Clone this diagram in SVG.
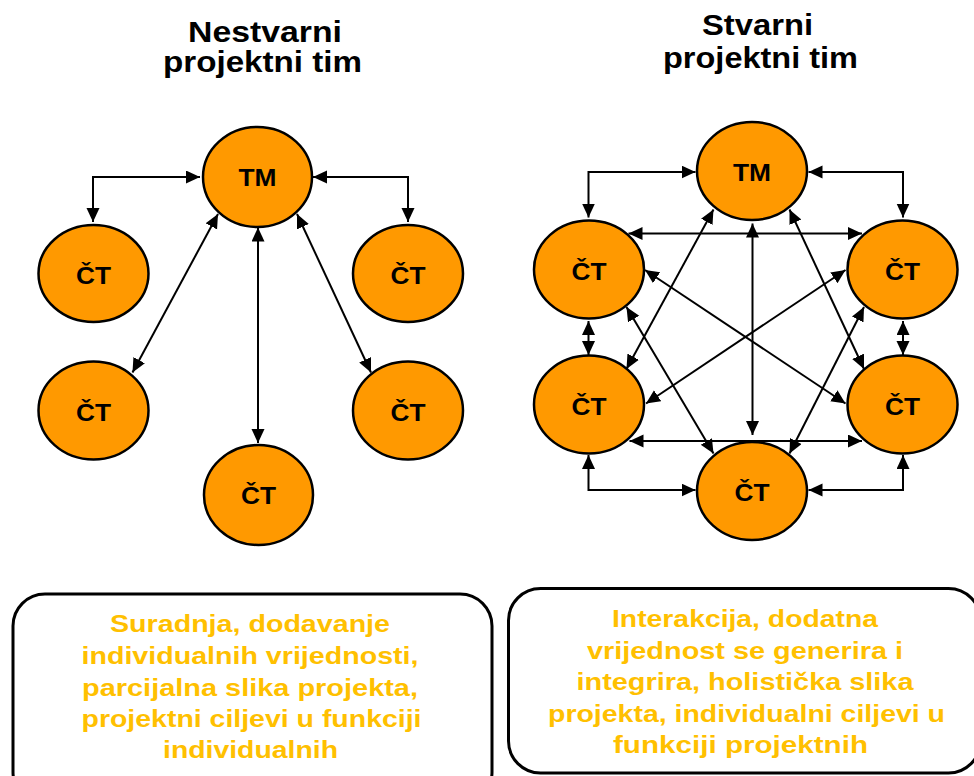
<svg xmlns="http://www.w3.org/2000/svg" width="974" height="776" viewBox="0 0 974 776">
<style>
.title{font-family:"Liberation Sans",Arial,sans-serif;font-weight:bold;font-size:29px;fill:#000;text-anchor:middle}
.node ellipse{fill:#FF9900;stroke:#000;stroke-width:2.5}
.node text{font-family:"Liberation Sans",Arial,sans-serif;font-weight:bold;font-size:24px;fill:#000;text-anchor:middle}
.conn{fill:none;stroke:#000;stroke-width:2;marker-start:url(#ah);marker-end:url(#ah)}
.box rect{fill:#fff;stroke:#000;stroke-width:3}
.box text{font-family:"Liberation Sans",Arial,sans-serif;font-weight:bold;font-size:24px;fill:#FFC000;text-anchor:middle}
</style>
<defs>
<marker id="ah" markerUnits="userSpaceOnUse" markerWidth="15" markerHeight="15" viewBox="0 0 15 15" refX="14" refY="6.5" orient="auto-start-reverse">
<path d="M0,0 L14,6.5 L0,13 z" fill="#000"/>
</marker>
</defs>
<rect width="974" height="776" fill="#fff"/>

<g id="title-left">
<text class="title" x="265" y="41.5" textLength="154" lengthAdjust="spacingAndGlyphs">Nestvarni</text>
<text class="title" x="262.5" y="72" textLength="199" lengthAdjust="spacingAndGlyphs">projektni tim</text>
</g>
<g id="title-right">
<text class="title" x="757.5" y="35" textLength="111" lengthAdjust="spacingAndGlyphs">Stvarni</text>
<text class="title" x="760.5" y="68" textLength="195" lengthAdjust="spacingAndGlyphs">projektni tim</text>
</g>

<!-- Left diagram nodes -->
<g id="L-TM" class="node"><ellipse cx="257.5" cy="177" rx="54.5" ry="50"/><text x="257.5" y="186" textLength="38" lengthAdjust="spacingAndGlyphs">TM</text></g>
<g id="L-CT1" class="node"><ellipse cx="93.5" cy="273.5" rx="55" ry="48.5"/><text x="93.5" y="284" textLength="35" lengthAdjust="spacingAndGlyphs">ČT</text></g>
<g id="L-CT2" class="node"><ellipse cx="408" cy="273.5" rx="55" ry="48.5"/><text x="408" y="284" textLength="35" lengthAdjust="spacingAndGlyphs">ČT</text></g>
<g id="L-CT3" class="node"><ellipse cx="93.5" cy="410.5" rx="55" ry="49"/><text x="93.5" y="421" textLength="35" lengthAdjust="spacingAndGlyphs">ČT</text></g>
<g id="L-CT4" class="node"><ellipse cx="408" cy="410.5" rx="55" ry="49"/><text x="408" y="421" textLength="35" lengthAdjust="spacingAndGlyphs">ČT</text></g>
<g id="L-CT5" class="node"><ellipse cx="258.5" cy="495" rx="54.5" ry="50"/><text x="258.5" y="504" textLength="35" lengthAdjust="spacingAndGlyphs">ČT</text></g>

<!-- Right diagram nodes -->
<g id="R-TM" class="node"><ellipse cx="752" cy="171" rx="55" ry="49"/><text x="752" y="181" textLength="38" lengthAdjust="spacingAndGlyphs">TM</text></g>
<g id="R-CT1" class="node"><ellipse cx="589" cy="269.5" rx="55" ry="49"/><text x="589" y="279.5" textLength="35" lengthAdjust="spacingAndGlyphs">ČT</text></g>
<g id="R-CT2" class="node"><ellipse cx="902.5" cy="269.5" rx="55" ry="49"/><text x="902.5" y="279.5" textLength="35" lengthAdjust="spacingAndGlyphs">ČT</text></g>
<g id="R-CT3" class="node"><ellipse cx="589" cy="404.5" rx="55" ry="49"/><text x="589" y="414.5" textLength="35" lengthAdjust="spacingAndGlyphs">ČT</text></g>
<g id="R-CT4" class="node"><ellipse cx="902.5" cy="404.5" rx="55" ry="49"/><text x="902.5" y="414.5" textLength="35" lengthAdjust="spacingAndGlyphs">ČT</text></g>
<g id="R-CT5" class="node"><ellipse cx="752" cy="491" rx="55" ry="49"/><text x="752" y="500.5" textLength="35" lengthAdjust="spacingAndGlyphs">ČT</text></g>

<g id="connectors">
<!-- left -->
<path class="conn" d="M200,177 H93 V222"/>
<path class="conn" d="M313,177 H408 V222"/>
<path class="conn" d="M218,214 L132.5,372.5"/>
<path class="conn" d="M258,227.5 V443"/>
<path class="conn" d="M297,214 L371,372.5"/>
<!-- right -->
<path class="conn" d="M695.5,172 H588.5 V217.5"/>
<path class="conn" d="M808.5,172 H903 V217.5"/>
<path class="conn" d="M628.5,233.5 H862"/>
<path class="conn" d="M588.5,321 V355"/>
<path class="conn" d="M903,321 V355"/>
<path class="conn" d="M629.5,441 H862"/>
<path class="conn" d="M588.5,455 V490 H695.5"/>
<path class="conn" d="M903,455 V490 H808.5"/>
<path class="conn" d="M752.5,223.5 V435"/>
<path class="conn" d="M713.5,209.5 L626.5,369"/>
<path class="conn" d="M789.5,209.5 L864,369"/>
<path class="conn" d="M626.5,307 L713.5,453.5"/>
<path class="conn" d="M864,307 L789.5,453.5"/>
<path class="conn" d="M645,270 L845.5,403.5"/>
<path class="conn" d="M845.5,270 L646,403.5"/>
</g>

<g id="box-left" class="box">
<rect x="13" y="594" width="479" height="210" rx="32"/>
<text x="250" y="632" textLength="280" lengthAdjust="spacingAndGlyphs">Suradnja, dodavanje</text>
<text x="250" y="664" textLength="337" lengthAdjust="spacingAndGlyphs">individualnih vrijednosti,</text>
<text x="250" y="695.5" textLength="336" lengthAdjust="spacingAndGlyphs">parcijalna slika projekta,</text>
<text x="251.5" y="727" textLength="340" lengthAdjust="spacingAndGlyphs">projektni ciljevi u funkciji</text>
<text x="250.5" y="758" textLength="175" lengthAdjust="spacingAndGlyphs">individualnih</text>
</g>

<g id="box-right" class="box">
<rect x="508.5" y="588.5" width="472" height="184.5" rx="32"/>
<text x="745" y="627" textLength="266" lengthAdjust="spacingAndGlyphs">Interakcija, dodatna</text>
<text x="745" y="658.5" textLength="316" lengthAdjust="spacingAndGlyphs">vrijednost se generira i</text>
<text x="745" y="690" textLength="337" lengthAdjust="spacingAndGlyphs">integrira, holistička slika</text>
<text x="746.5" y="721.5" textLength="397" lengthAdjust="spacingAndGlyphs">projekta, individualni ciljevi u</text>
<text x="740.5" y="753" textLength="255" lengthAdjust="spacingAndGlyphs">funkciji projektnih</text>
</g>
</svg>
